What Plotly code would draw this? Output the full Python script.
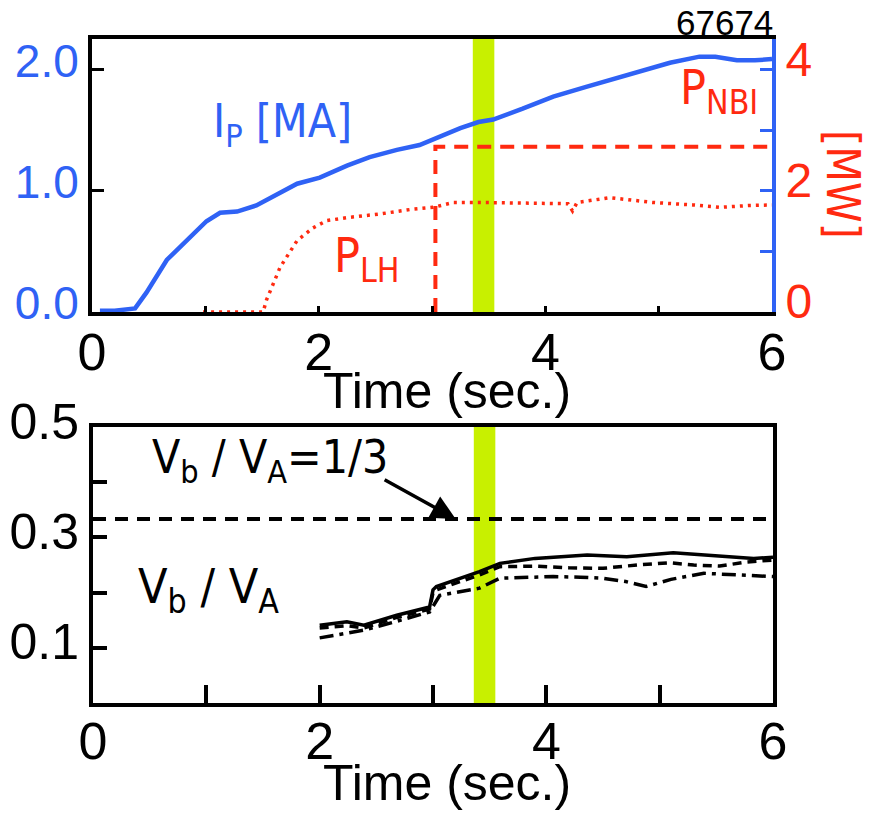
import plotly.graph_objects as go

# ---------------- data ----------------
ip_t = [0.07, 0.2, 0.38, 0.48, 0.66, 0.84, 1.01, 1.13, 1.28, 1.45, 1.66, 1.81, 2.01, 2.25,
        2.45, 2.69, 2.89, 3.05, 3.25, 3.41, 3.54, 3.8, 4.07, 4.36, 4.66, 4.9, 5.1, 5.36,
        5.5, 5.69, 5.85, 6.0]
ip_val = [0.01, 0.01, 0.03, 0.16, 0.43, 0.6, 0.75, 0.82, 0.83, 0.88, 0.99, 1.06, 1.11, 1.21,
          1.28, 1.34, 1.38, 1.44, 1.52, 1.57, 1.59, 1.68, 1.78, 1.86, 1.94, 2.0, 2.06, 2.11,
          2.11, 2.08, 2.08, 2.09]

plh_t = [0.98, 1.51, 1.54, 1.66, 1.81, 1.95, 2.07, 2.25, 2.54, 2.83, 3.01, 3.19, 3.42, 3.8,
         4.2, 4.24, 4.28, 4.57, 4.95, 5.3, 5.54, 5.8, 6.0]
plh_val = [0.0, 0.0, 0.2, 0.74, 1.18, 1.39, 1.51, 1.56, 1.62, 1.70, 1.73, 1.81, 1.81, 1.80,
           1.79, 1.67, 1.81, 1.89, 1.81, 1.77, 1.73, 1.76, 1.77]

pnbi_t = [3.03, 3.03, 6.0]
pnbi_val = [0.0, 2.73, 2.73]

vb1_t = [2.0, 2.24, 2.39, 2.68, 2.97, 3.0, 3.03, 3.41, 3.59, 3.9, 4.36, 4.71, 5.12, 5.5, 5.83, 6.0]
vb1_val = [0.141, 0.147, 0.141, 0.159, 0.174, 0.205, 0.211, 0.238, 0.253, 0.262, 0.268, 0.265,
           0.272, 0.266, 0.262, 0.264]
vb2_t = [2.0, 2.24, 2.39, 2.68, 2.97, 3.0, 3.03, 3.41, 3.59, 3.91, 4.2, 4.5, 4.8, 5.09, 5.3,
         5.53, 5.75, 6.0]
vb2_val = [0.136, 0.14, 0.136, 0.155, 0.17, 0.2, 0.205, 0.232, 0.247, 0.248, 0.245, 0.244,
           0.25, 0.254, 0.25, 0.248, 0.255, 0.259]
vb3_t = [2.0, 2.2, 2.39, 2.68, 2.97, 3.06, 3.41, 3.59, 4.06, 4.3, 4.5, 4.7, 4.88, 5.1, 5.39,
         5.7, 6.0]
vb3_val = [0.118, 0.125, 0.132, 0.148, 0.165, 0.195, 0.208, 0.226, 0.229, 0.228, 0.226, 0.22,
           0.211, 0.224, 0.235, 0.232, 0.229]

ratio_line_t = [0.0, 6.0]
ratio_line_val = [1 / 3, 1 / 3]

band_t = [3.36, 3.55]
shot_label = "67674"

x_ticks = [0, 2, 4, 6]

# ---------------- styles ----------------
BLUE = "#2f62f5"
RED = "#ff2a10"
GREEN = "#c8f000"
FONT = "Liberation Sans, Arial, sans-serif"
NARROW = "Liberation Sans Narrow, DejaVu Sans Condensed, Liberation Sans, Arial, sans-serif"

W, H = 869, 817


def px_x(p):
    return p / W


def px_y(p):
    return 1 - p / H


fig = go.Figure()

fig.add_trace(go.Scatter(x=ip_t, y=ip_val, mode="lines", line=dict(color=BLUE, width=4.5),
                         xaxis="x", yaxis="y", showlegend=False))
fig.add_trace(go.Scatter(x=plh_t, y=plh_val, mode="lines",
                         line=dict(color=RED, width=3.5, dash="3px,5px"),
                         xaxis="x", yaxis="y2", showlegend=False))
fig.add_trace(go.Scatter(x=pnbi_t, y=pnbi_val, mode="lines",
                         line=dict(color=RED, width=4, dash="14px,9px"),
                         xaxis="x", yaxis="y2", showlegend=False))

fig.add_trace(go.Scatter(x=ratio_line_t, y=ratio_line_val, mode="lines",
                         line=dict(color="black", width=4, dash="13px,9px"),
                         xaxis="x2", yaxis="y3", showlegend=False))
fig.add_trace(go.Scatter(x=vb1_t, y=vb1_val, mode="lines", line=dict(color="black", width=3.5),
                         xaxis="x2", yaxis="y3", showlegend=False))
fig.add_trace(go.Scatter(x=vb2_t, y=vb2_val, mode="lines",
                         line=dict(color="black", width=3.5, dash="9px,6px"),
                         xaxis="x2", yaxis="y3", showlegend=False))
fig.add_trace(go.Scatter(x=vb3_t, y=vb3_val, mode="lines",
                         line=dict(color="black", width=3.5, dash="14px,6px,4px,6px"),
                         xaxis="x2", yaxis="y3", showlegend=False))

# green time bands
fig.add_shape(type="rect", xref="x", yref="y domain", x0=band_t[0], x1=band_t[1], y0=0, y1=1,
              fillcolor=GREEN, line=dict(width=0), layer="below")
fig.add_shape(type="rect", xref="x2", yref="y3 domain", x0=band_t[0], x1=band_t[1], y0=0, y1=1,
              fillcolor=GREEN, line=dict(width=0), layer="below")

top_dom = [px_y(312), px_y(39)]
bot_dom = [px_y(703), px_y(427)]

fig.update_layout(
    width=W, height=H, margin=dict(l=0, r=0, t=0, b=0, pad=0, autoexpand=False),
    paper_bgcolor="white", plot_bgcolor="white",
    font=dict(family=FONT, color="black"),
    xaxis=dict(domain=[px_x(92), px_x(772)], anchor="y", range=[0, 6], automargin=False,
               showline=True, linecolor="black", linewidth=4, mirror=True,
               ticks="inside", tickvals=x_ticks, ticklen=6, tickwidth=3, tickcolor="black",
               minor=dict(dtick=1, ticks="inside", ticklen=6, tickwidth=3, tickcolor="black"),
               tickfont=dict(size=52), ticklabelstandoff=-8,
               showgrid=False, zeroline=False),
    yaxis=dict(domain=top_dom, anchor="x", range=[0, 2.256], automargin=False,
               showline=True, linecolor="black", linewidth=4,
               ticks="inside", dtick=1, ticklen=12, tickwidth=3, tickcolor="black",
               tickformat=".1f", tickfont=dict(size=46, color=BLUE), ticklabelshift=-9,
               showgrid=False, zeroline=False),
    yaxis2=dict(overlaying="y", side="right", anchor="x", range=[0, 4.512], automargin=False,
                showline=True, linecolor=BLUE, linewidth=4,
                ticks="inside", dtick=2, ticklen=12, tickwidth=3, tickcolor=BLUE,
                minor=dict(dtick=1, ticks="inside", ticklen=12, tickwidth=3, tickcolor=BLUE),
                tickfont=dict(size=48, color=RED), ticklabelshift=-11,
                showgrid=False, zeroline=False),
    xaxis2=dict(domain=[px_x(93), px_x(773)], anchor="y3", range=[0, 6], automargin=False,
                showline=True, linecolor="black", linewidth=4, mirror=True,
                ticks="inside", tickvals=x_ticks, ticklen=18, tickwidth=3.5, tickcolor="black",
                minor=dict(dtick=1, ticks="inside", ticklen=18, tickwidth=3.5, tickcolor="black"),
                tickfont=dict(size=52), ticklabelstandoff=-10,
                showgrid=False, zeroline=False),
    yaxis3=dict(domain=bot_dom, anchor="x2", range=[0, 0.5], automargin=False,
                showline=True, linecolor="black", linewidth=4, mirror=True,
                ticks="inside", tick0=0.1, dtick=0.2, ticklen=14, tickwidth=3.5,
                tickcolor="black",
                minor=dict(tick0=0, dtick=0.1, ticks="inside", ticklen=14, tickwidth=3.5,
                           tickcolor="black"),
                tickformat=".1f", tickfont=dict(size=50), ticklabelshift=-6,
                showgrid=False, zeroline=False),
)

ann = []
ann.append(dict(text=shot_label, xref="paper", yref="paper", x=px_x(775), y=px_y(22),
                xanchor="right", yanchor="middle", showarrow=False,
                font=dict(size=35, color="black", family=FONT)))
ann.append(dict(text="Time (sec.)", xref="paper", yref="paper", x=px_x(447), y=px_y(391),
                xanchor="center", yanchor="middle", showarrow=False,
                font=dict(size=50, color="black", family=FONT)))
ann.append(dict(text="Time (sec.)", xref="paper", yref="paper", x=px_x(447), y=px_y(783),
                xanchor="center", yanchor="middle", showarrow=False,
                font=dict(size=50, color="black", family=FONT)))
ann.append(dict(text="[MW]", xref="paper", yref="paper", x=px_x(843), y=px_y(184),
                xanchor="center", yanchor="middle", showarrow=False, textangle=90,
                font=dict(size=46, color=RED, family=NARROW)))
ann.append(dict(text="I<sub>P</sub> [MA]", xref="x", yref="y", x=1.05, y=1.55,
                xanchor="left", yanchor="middle", showarrow=False,
                font=dict(size=46, color=BLUE, family=NARROW)))
ann.append(dict(text="P<sub>LH</sub>", xref="x", yref="y", x=2.12, y=0.44,
                xanchor="left", yanchor="middle", showarrow=False,
                font=dict(size=48, color=RED, family=NARROW)))
ann.append(dict(text="P<sub>NBI</sub>", xref="x", yref="y", x=5.17, y=1.83,
                xanchor="left", yanchor="middle", showarrow=False,
                font=dict(size=48, color=RED, family=NARROW)))
ann.append(dict(text="V<sub>b</sub> / V<sub>A</sub>=1/3", xref="x2", yref="y3", x=0.5, y=0.44,
                xanchor="left", yanchor="middle", showarrow=False,
                font=dict(size=46, color="black", family=NARROW)))
ann.append(dict(text="V<sub>b</sub> / V<sub>A</sub>", xref="x2", yref="y3", x=0.38, y=0.205,
                xanchor="left", yanchor="middle", showarrow=False,
                font=dict(size=48, color="black", family=NARROW)))
ann.append(dict(text="", xref="x2", yref="y3", x=3.2, y=1 / 3, axref="x2", ayref="y3",
                ax=2.56, ay=0.406, showarrow=True, arrowhead=2, arrowsize=1.4,
                arrowwidth=3.5, arrowcolor="black"))
fig.update_layout(annotations=ann)

fig.write_html("out.html")
